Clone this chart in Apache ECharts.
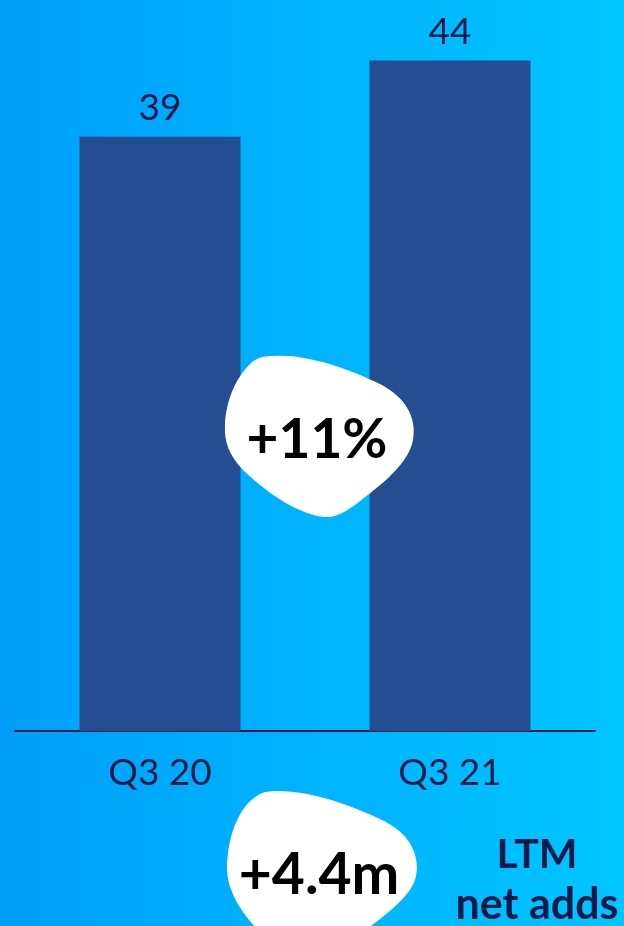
<!DOCTYPE html>
<html>
<head>
<meta charset="utf-8">
<script src="https://cdn.jsdelivr.net/npm/echarts@6/dist/echarts.min.js"></script>
<style>
  html, body { margin: 0; padding: 0; }
  #chart { width: 624px; height: 926px; }
</style>
</head>
<body>
<div id="chart"></div>
<script>
// Subscriber totals (millions) by quarter
const categories = ['Q3 20', 'Q3 21'];
const subscribers = [39, 44];
const growthLabel = '+11%';
const netAddsLabel = '+4.4m';
const noteLines = ['LTM', 'net adds'];

const navy = '#0b1a4b';
const barColor = '#244e91';
const font = 'Lato, "Open Sans", sans-serif';

// Closed shape made of cubic Bezier segments, used for the white pebbles
echarts.graphic.registerShape('pebble', echarts.graphic.extendShape({
  shape: { start: [0, 0], curves: [] },
  buildPath: function (ctx, shape) {
    ctx.moveTo(shape.start[0], shape.start[1]);
    shape.curves.forEach(function (c) {
      ctx.bezierCurveTo(c[0], c[1], c[2], c[3], c[4], c[5]);
    });
    ctx.closePath();
  }
}));

const chart = echarts.init(document.getElementById('chart'));

chart.setOption({
  backgroundColor: new echarts.graphic.LinearGradient(0, 0, 1, 0, [
    { offset: 0, color: '#009ff9' },
    { offset: 0.5, color: '#00b3fd' },
    { offset: 1, color: '#00c5ff' }
  ]),
  animation: false,
  grid: { left: 15, right: 29, top: 30, bottom: 195, containLabel: false },
  xAxis: {
    type: 'category',
    data: categories,
    axisLine: { show: true, lineStyle: { color: navy, width: 2 } },
    axisTick: { show: false },
    axisLabel: {
      color: navy, fontFamily: font, fontSize: 37, margin: 24
    }
  },
  yAxis: {
    type: 'value', min: 0, max: 46,
    show: false,
    splitLine: { show: false }
  },
  series: [{
    type: 'bar',
    data: subscribers,
    barWidth: 161,
    itemStyle: { color: barColor },
    label: {
      show: true, position: 'top', distance: 10,
      color: navy, fontFamily: font, fontSize: 37
    }
  }],
  graphic: [
    {
      type: 'pebble', z: 100,
      shape: {
        start: [262, 357],
        curves: [
          [300, 351, 345, 367, 380, 384],
          [405, 397, 417, 417, 413, 440],
          [409, 462, 385, 482, 364, 498],
          [350, 509, 338, 518, 325, 517],
          [300, 515, 268, 494, 244, 471],
          [229, 456, 224, 441, 225, 425],
          [226, 400, 236, 378, 250, 364],
          [254, 360, 258, 358, 262, 357]
        ]
      },
      style: { fill: '#ffffff' }
    },
    {
      type: 'text', z: 101, x: 317, y: 440,
      style: {
        text: growthLabel, fill: '#000000', font: 'bold 55px ' + font,
        align: 'center', verticalAlign: 'middle'
      }
    },
    {
      type: 'pebble', z: 100,
      shape: {
        start: [265, 792],
        curves: [
          [300, 787, 350, 804, 386, 822],
          [410, 835, 420, 855, 416, 876],
          [412, 897, 382, 918, 352, 940],
          [320, 945, 290, 945, 268, 940],
          [244, 918, 226, 892, 227, 866],
          [228, 835, 240, 800, 265, 792]
        ]
      },
      style: { fill: '#ffffff' }
    },
    {
      type: 'text', z: 101, x: 319, y: 876,
      style: {
        text: netAddsLabel, fill: '#000000', font: 'bold 57px ' + font,
        align: 'center', verticalAlign: 'middle'
      }
    },
    {
      type: 'text', z: 101, x: 537, y: 855,
      style: {
        text: noteLines[0], fill: navy, font: 'bold 41px ' + font,
        align: 'center', verticalAlign: 'middle'
      }
    },
    {
      type: 'text', z: 101, x: 537, y: 905,
      style: {
        text: noteLines[1], fill: navy, font: 'bold 43px ' + font,
        align: 'center', verticalAlign: 'middle'
      }
    }
  ]
});
</script>
</body>
</html>
